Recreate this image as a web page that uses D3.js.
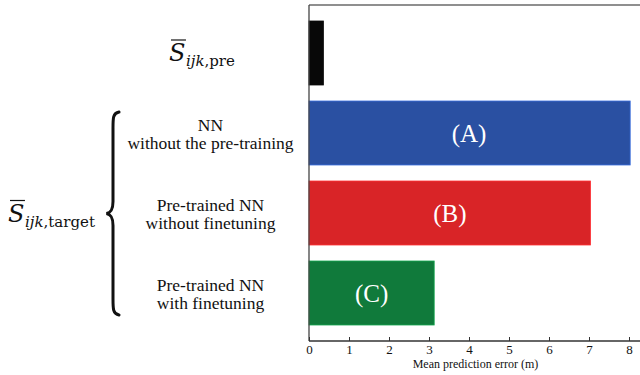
<!DOCTYPE html>
<html>
<head>
<meta charset="utf-8">
<script src="https://cdn.jsdelivr.net/npm/d3@7"></script>
<style>
  html, body { margin: 0; padding: 0; background: #fff; }
  svg { display: block; }
</style>
</head>
<body>
<svg id="chart" width="640" height="375"></svg>
<script>
// Mean prediction error (m) per model
const categories = ["pre", "A", "B", "C"];
const values = [0.36, 8.03, 7.04, 3.13];
const barLabels = ["", "(A)", "(B)", "(C)"];
const categoryLines = [
  [],
  ["NN", "without the pre-training"],
  ["Pre-trained NN", "without finetuning"],
  ["Pre-trained NN", "with finetuning"]
];
const colors = ["#080808", "#2a50a2", "#d92427", "#107a3b"];
const xTicks = [0, 1, 2, 3, 4, 5, 6, 7, 8];
const xTitle = "Mean prediction error (m)";

const SERIF = "'Liberation Serif', 'Tinos', 'DejaVu Serif', serif";
const MATH = "'DejaVu Serif', 'Liberation Serif', serif";

const svg = d3.select("#chart").attr("font-family", SERIF);
const plotLeft = 309, plotTop = 5, plotBottom = 341, plotRight = 648;

const x = d3.scaleLinear().domain([0, 8]).range([plotLeft, plotLeft + 320]);
const y = d3.scaleBand().domain(categories).range([plotTop, plotBottom])
  .paddingInner(0.2).paddingOuter(0.2);

// bars
svg.append("g").selectAll("rect")
  .data(categories)
  .join("rect")
  .attr("x", x(0))
  .attr("y", d => y(d))
  .attr("width", (d, i) => x(values[i]) - x(0))
  .attr("height", y.bandwidth())
  .attr("fill", (d, i) => colors[i])
  .attr("stroke", (d, i) => d3.color(colors[i]).brighter(0.9))
  .attr("stroke-width", 0.8);

// bar labels
svg.append("g").selectAll("text")
  .data(categories)
  .join("text")
  .attr("x", (d, i) => x(Math.min(values[i] / 2, 4)))
  .attr("y", d => y(d) + y.bandwidth() / 2)
  .attr("dy", "0.35em")
  .attr("text-anchor", "middle")
  .attr("font-family", SERIF)
  .attr("fill", "#fff")
  .attr("font-size", 25)
  .text((d, i) => barLabels[i]);

// frame
svg.append("line").attr("x1", plotLeft).attr("x2", plotRight).attr("y1", plotTop).attr("y2", plotTop)
  .attr("stroke", "#6a6a6a").attr("stroke-width", 1.6);
svg.append("line").attr("x1", plotLeft).attr("x2", plotLeft).attr("y1", plotTop).attr("y2", plotBottom)
  .attr("stroke", "#444").attr("stroke-width", 1.3);

// bottom axis with inward ticks
const xAxis = d3.axisBottom(x).tickValues(xTicks).tickSizeInner(-4).tickSizeOuter(0).tickPadding(4);
const gx = svg.append("g").attr("transform", `translate(0,${plotBottom})`).call(xAxis)
  .attr("font-family", SERIF);
gx.select(".domain").attr("d", `M${plotLeft},0H${plotRight}`).attr("stroke", "#333").attr("stroke-width", 1.3);
gx.selectAll(".tick line").attr("stroke", "#333");
gx.selectAll(".tick text").attr("font-size", 13).attr("fill", "#111");

svg.append("text")
  .attr("x", (plotLeft + 640) / 2 + 1)
  .attr("y", 368)
  .attr("text-anchor", "middle")
  .attr("font-family", SERIF)
  .attr("font-size", 12)
  .attr("fill", "#111")
  .text(xTitle);

// category labels, one text element per line
const labelX = 210.5;
categories.forEach((c, i) => {
  const lines = categoryLines[i];
  if (!lines.length) return;
  const cy = y(c) + y.bandwidth() / 2;
  lines.forEach((ln, k) => {
    svg.append("text")
      .attr("x", labelX)
      .attr("y", cy + (k - (lines.length - 1) / 2) * 18.5 + 7)
      .attr("text-anchor", "middle")
      .attr("font-family", SERIF)
      .attr("font-size", 17.5)
      .attr("fill", "#111")
      .text(ln);
  });
});

// S-bar symbol with subscript
function sBar(xPos, baseY, subItalic, subRoman) {
  const g = svg.append("g").attr("font-family", MATH);
  const s = g.append("text")
    .attr("x", xPos).attr("y", baseY)
    .attr("font-size", 24).attr("font-style", "italic").attr("fill", "#111")
    .text("S");
  const bb = s.node().getBBox();
  g.append("line")
    .attr("x1", bb.x + 2).attr("x2", bb.x + bb.width + 0.5)
    .attr("y1", baseY - 21).attr("y2", baseY - 21)
    .attr("stroke", "#111").attr("stroke-width", 1.2);
  const sub = g.append("text")
    .attr("x", bb.x + bb.width + 0.5).attr("y", baseY + 5)
    .attr("font-size", 15).attr("fill", "#111");
  sub.append("tspan").attr("font-style", "italic").text(subItalic);
  sub.append("tspan").text(subRoman);
  return g;
}
const yPre = y("pre") + y.bandwidth() / 2;
sBar(169, yPre + 8, "ijk", ",pre");
const yTarget = y("B") + y.bandwidth() / 2;
sBar(8, yTarget + 8.5, "ijk", ",target");

// brace grouping the target rows
const bTop = y("A") + 11, bBot = y("C") + y.bandwidth() - 10, bMid = (bTop + bBot) / 2;
const bx = 113, tipX = 106.5, endX = 119;
const brace = d3.path();
brace.moveTo(endX, bTop);
brace.bezierCurveTo(bx, bTop + 1, bx, bTop + 6, bx, bTop + 16);
brace.lineTo(bx, bMid - 12);
brace.bezierCurveTo(bx, bMid - 4, bx - 2, bMid - 1, tipX, bMid);
brace.bezierCurveTo(bx - 2, bMid + 1, bx, bMid + 4, bx, bMid + 12);
brace.lineTo(bx, bBot - 16);
brace.bezierCurveTo(bx, bBot - 6, bx, bBot - 1, endX, bBot);
svg.append("path").attr("d", brace.toString())
  .attr("fill", "none").attr("stroke", "#111").attr("stroke-width", 3)
  .attr("stroke-linecap", "round");
</script>
</body>
</html>
